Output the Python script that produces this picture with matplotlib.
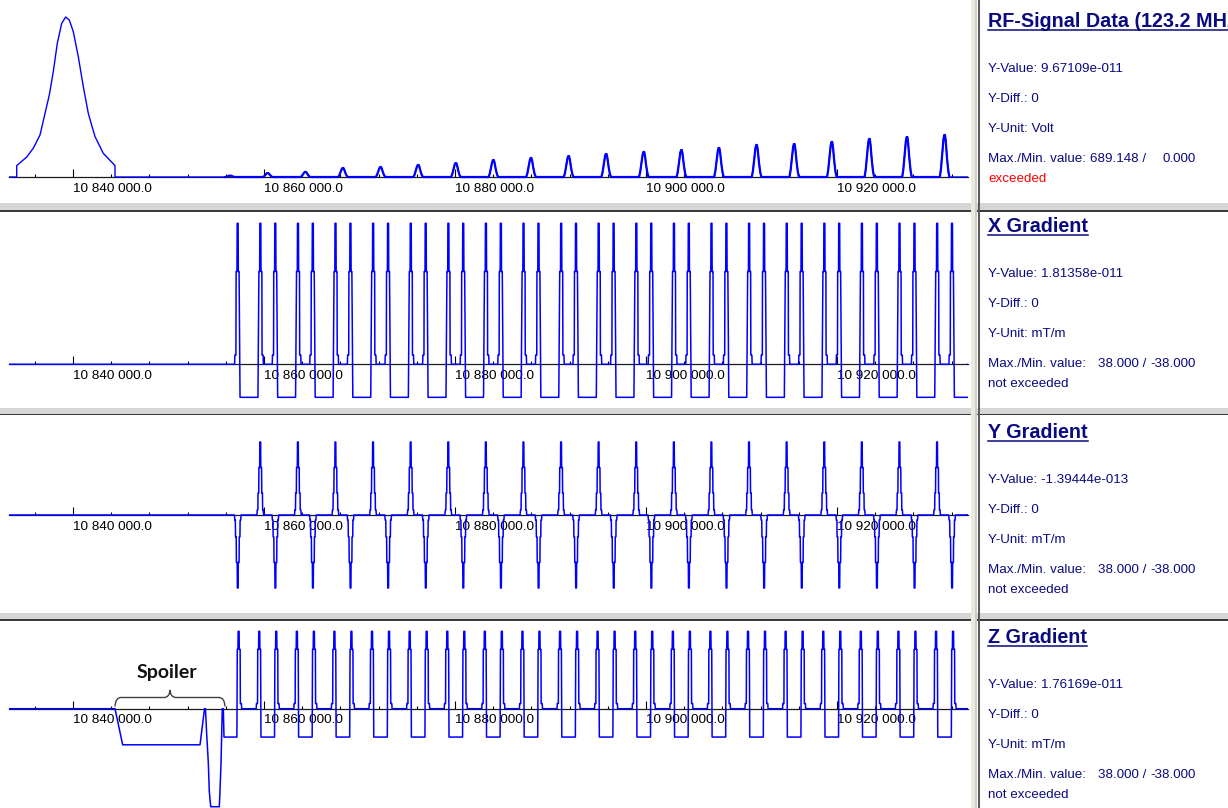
import numpy as np
import matplotlib
matplotlib.use("Agg")
import matplotlib.pyplot as plt
from matplotlib.ticker import MultipleLocator, FuncFormatter
from matplotlib.path import Path
from matplotlib.patches import PathPatch, Rectangle
from matplotlib.lines import Line2D

plt.rcParams['font.family'] = ['Liberation Sans', 'DejaVu Sans']

W, H = 1228, 808

# ---- data (time in us) ----
x_range = [10833298, 10933717]

# start of each echo (x-gradient first lobe); first entry is the dummy cycle
tr_starts = [10853310, 10857250, 10861190, 10865120, 10869060, 10873000, 10876940,
             10880870, 10884810, 10888750, 10892680, 10896620, 10900560, 10904490,
             10908430, 10912370, 10916310, 10920240, 10924180, 10928120, 10932050]

# RF excitation (Volt)
rf_main_t = [10834105, 10834105, 10835152, 10835843, 10836545, 10837068, 10837518,
             10837937, 10838356, 10838817, 10839236, 10839613, 10840031, 10840555,
             10841079, 10841602, 10842304, 10843173, 10844398, 10844398]
rf_main_v = [0, 49, 86, 124, 181, 274, 353, 454, 576, 662, 689, 676, 626, 518,
             389, 274, 174, 102, 49, 0]
rf_amp = [6, 17, 22, 39, 43, 52, 60, 73, 82, 90, 99, 108, 116, 125, 138, 142,
          151, 164, 172, 181]
rf_offset = 3150
rf_pulse_t = [-500, -380, -250, -120, -40, 40, 120, 250, 380, 500]
rf_pulse_v = [0, 0.2, 0.55, 0.9, 1, 1, 0.85, 0.45, 0.15, 0]

# X gradient (mT/m), one cycle relative to tr start
x_shape_t = [-330, -300, -190, -170, -80, -60, 40, 60, 140, 240, 2116, 2216, 2296,
             2316, 2416, 2436, 2526, 2546, 2656, 2686]
x_shape_v = [0, 2.5, 2.5, 25, 25, 38, 38, 25, 25, -8.9, -8.9, 25, 25, 38, 38, 25,
             25, 2.5, 2.5, 0]

# Y gradient (mT/m): narrow blips
spike_t = [-350, -310, -250, -230, -160, -140, -60, -40, 40, 60, 140, 160, 230, 250, 310, 350]
spike_v = [0, 0.07, 0.07, 0.3, 0.3, 0.65, 0.65, 1, 1, 0.65, 0.65, 0.3, 0.3, 0.07, 0.07, 0]
y_offsets = [0, 2356]
y_amp = [-20, 20]

# Z gradient (mT/m)
z_offset = 2262
z_shape_t = [-330, -300, -190, -170, -80, -60, 40, 60, 130, 170, 1590, 1630, 1700,
             1720, 1820, 1840, 1930, 1950, 2060, 2090]
z_shape_v = [0, 2, 2, 23, 23, 30, 30, 23, 23, -11, -11, 23, 23, 30, 30, 23, 23, 2, 2, 0]
z_spoiler_t = [10844400, 10845200, 10853300, 10853770, 10853870, 10854000, 10854170,
               10854270, 10854420, 10855320, 10855390, 10855500, 10855570, 10855630,
               10855740, 10855810]
z_spoiler_v = [0, -14, -14, 0, 0, -10, -21, -32, -38, -38, -32, -21, -10, 0, 0, -11]

panels = ["RF-Signal Data (123.2 MHz)", "X Gradient", "Y Gradient", "Z Gradient"]
y_values = ["9.67109e-011", "1.81358e-011", "-1.39444e-013", "1.76169e-011"]
y_units = ["Volt", "mT/m", "mT/m", "mT/m"]
max_vals = ["689.148 /", "38.000 /", "38.000 /", "38.000 /"]
min_vals = ["0.000", "-38.000", "-38.000", "-38.000"]
status = ["exceeded", "not exceeded", "not exceeded", "not exceeded"]


def train(centers, shape_t, shape_v, amps=None):
    if amps is None:
        amps = [1.0] * len(centers)
    t = np.concatenate([c + np.asarray(shape_t, float) for c in centers])
    v = np.concatenate([a * np.asarray(shape_v, float) for a in amps])
    return t, v


def wave(*parts):
    t = [np.array([x_range[0]])] + [p[0] for p in parts] + [np.array([x_range[1]])]
    v = [np.array([0.0])] + [np.asarray(p[1], float) for p in parts] + [np.array([0.0])]
    return np.concatenate(t), np.concatenate(v)


starts = np.array(tr_starts)

rf_small = train(starts[:-1] + rf_offset, rf_pulse_t, rf_pulse_v, rf_amp)
rf = wave((np.array(rf_main_t, float), rf_main_v), rf_small)

gx = wave(train(starts[1:], x_shape_t, x_shape_v))

y_centers = np.sort(np.concatenate([starts[1:] + o for o in y_offsets]))
y_amps = [y_amp[i % 2] for i in range(len(y_centers))]
gy = wave(train(y_centers, spike_t, spike_v, y_amps))

zt = np.array(z_shape_t)
half = zt >= 1590
gz = wave((np.array(z_spoiler_t, float), z_spoiler_v),
          (starts[0] + z_offset + zt[half], np.array(z_shape_v)[half]),
          train(starts[1:] + z_offset, z_shape_t, z_shape_v))

signals = [rf, gx, gy, gz]
widths = [1.0, 1.1, 1.1, 1.1]

# ---- layout (pixel rows of each plot strip) ----
rows = [(0, 203.5), (211.5, 408.3), (415.5, 612.8), (621, 808)]
ylims = [(-114.1, 762.3), (-11.86, 41.18), (-26.8, 27.26), (-38.5, 34.0)]

fig = plt.figure(figsize=(W / 100, H / 100), dpi=100)
fig.patch.set_facecolor('white')


def fx(x):
    return x / W


def fy(y):
    return 1 - y / H


fmt = FuncFormatter(lambda v, p: f"{v:,.1f}".replace(",", " "))

axes = []
for (top, bot), lim, (t, v), lw in zip(rows, ylims, signals, widths):
    ax = fig.add_axes([fx(9), fy(bot), (968 - 9) / W, (bot - top) / H])
    ax.patch.set_visible(False)
    ax.set_xlim(x_range)
    ax.set_ylim(lim)
    for s in ['top', 'left', 'right']:
        ax.spines[s].set_visible(False)
    ax.spines['bottom'].set_position(('data', 0))
    ax.spines['bottom'].set_color('#1a1a1a')
    ax.spines['bottom'].set_linewidth(0.9)
    ax.set_yticks([])
    ax.xaxis.set_major_locator(MultipleLocator(20000))
    ax.xaxis.set_minor_locator(MultipleLocator(4000))
    ax.xaxis.set_major_formatter(fmt)
    ax.tick_params(axis='x', which='major', direction='in', length=5.8, width=0.8,
                   pad=4, labelsize=9.7, color='black')
    ax.tick_params(axis='x', which='minor', direction='in', length=2.2, width=0.8,
                   color='black')
    for tk in ax.xaxis.get_major_ticks():
        tk.label1.set_horizontalalignment('left')
    ax.plot(t, v, color='#0000ff', lw=lw, zorder=3)
    axes.append(ax)

# the short RF pulses look heavier on screen
axes[0].plot(rf_small[0], rf_small[1], color='#0000ff', lw=1.6, zorder=3)

# separators
bands = [(203.5, 209.8, 211.5), (408.3, 414.0, 415.5), (612.8, 619.3, 621.0)]
for y0, y1, y2 in bands:
    fig.patches.append(Rectangle((0, fy(y1)), 1, (y1 - y0) / H, transform=fig.transFigure,
                                 facecolor='#d6d6d6', edgecolor='none', zorder=5))
    fig.patches.append(Rectangle((0, fy(y2)), 1, (y2 - y1) / H, transform=fig.transFigure,
                                 facecolor='#3a3a3a', edgecolor='none', zorder=5))
fig.patches.append(Rectangle((fx(971), 0), 4 / W, 1, transform=fig.transFigure,
                             facecolor='#ebe8dc', edgecolor='none', zorder=6))
fig.patches.append(Rectangle((fx(975), 0), 2.5 / W, 1, transform=fig.transFigure,
                             facecolor='#cfcdc4', edgecolor='none', zorder=6))
fig.patches.append(Rectangle((fx(977.5), 0), 2 / W, 1, transform=fig.transFigure,
                             facecolor='#5a5a5a', edgecolor='none', zorder=6))

# info panel
navy = '#0a0a80'
title_base = [26.7, 232.3, 438.3, 643.3]
titles = []
for i, tb in enumerate(title_base):
    titles.append(fig.text(fx(988), fy(tb), panels[i], fontsize=14.2, fontweight='bold',
                           color=navy, va='baseline', ha='left'))
    lines = [f"Y-Value: {y_values[i]}", "Y-Diff.: 0", f"Y-Unit: {y_units[i]}"]
    for off, s in zip([45, 75, 105], lines):
        fig.text(fx(988), fy(tb + off), s, fontsize=9.6, color=navy, va='baseline')
    fig.text(fx(988), fy(tb + 135), "Max./Min. value:", fontsize=9.6, color=navy, va='baseline')
    fig.text(fx(1146), fy(tb + 135), max_vals[i], fontsize=9.6, color=navy, va='baseline', ha='right')
    fig.text(fx(1196), fy(tb + 135), min_vals[i], fontsize=9.6, color=navy, va='baseline', ha='right')
    fig.text(fx(988), fy(tb + 155), status[i], fontsize=9.6, va='baseline',
             color='#ff0000' if status[i] == "exceeded" else navy)

# spoiler annotation
fig.text(fx(167), fy(678), "Spoiler", fontsize=14, fontweight='bold', family='Lato',
         color='#111111', ha='center', va='baseline')
brace = [(115, 706.5), (115.5, 697.5), (121, 697.5), (164, 697.5), (169.5, 697.5),
         (170, 690), (170.5, 697.5), (176, 697.5), (219, 697.5), (224.5, 697.5), (225, 706.5)]
codes = [Path.MOVETO, Path.CURVE3, Path.CURVE3, Path.LINETO, Path.CURVE3, Path.CURVE3,
         Path.CURVE3, Path.CURVE3, Path.LINETO, Path.CURVE3, Path.CURVE3]
fig.patches.append(PathPatch(Path([(fx(a), fy(b)) for a, b in brace], codes),
                             transform=fig.transFigure, fill=False, edgecolor='#404040',
                             lw=1.0, zorder=7))

fig.canvas.draw()
for txt, tb in zip(titles, title_base):
    bb = txt.get_window_extent()
    fig.lines.append(Line2D([fx(988), min(bb.x1, W) / W], [fy(tb + 3), fy(tb + 3)],
                            transform=fig.transFigure, color=navy, lw=1.1))

fig.savefig("out.png", dpi=100)
